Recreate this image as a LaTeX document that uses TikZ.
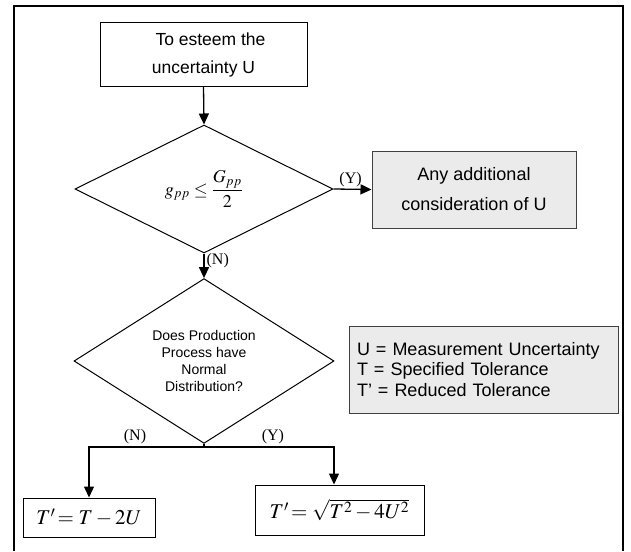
\documentclass[tikz,border=0pt]{standalone}
\usepackage{amsmath}
\usepackage{mathptmx}
\usepackage[no-math]{fontspec}
\setmainfont{Liberation Sans}
\newfontfamily\labelfont{Liberation Serif}
\usetikzlibrary{shapes.geometric,arrows.meta}
\begin{document}
\begin{tikzpicture}[x=1pt,y=-1pt,
  arr/.style={-{Triangle[length=11pt,width=10pt]}, line width=1.3pt},
  box/.style={draw, line width=1pt, inner sep=0pt, align=center},
  greybox/.style={box, draw=black!75, fill=black!8},
  test/.style={draw, diamond, line width=1pt, inner sep=0pt, align=center},
  yn/.style={font=\labelfont\fontsize{16}{18}\selectfont, inner sep=2pt}]
  \useasboundingbox (0,0) rectangle (631,551);
  \draw[line width=2.5pt] (14,551) -- (14,6) -- (623,6) -- (623,551);
  \node[box, minimum width=207pt, minimum height=63pt, font=\fontsize{17.5}{28}\selectfont] (start) at (203.5,54.5) {\hspace*{14pt}To esteem the\\uncertainty U};
  \node[test, minimum width=258pt, minimum height=128pt] (cond1) at (204,189) {\fontsize{18}{20}\selectfont$g_{pp}\le\dfrac{G_{pp}}{2}$};
  \node[greybox, minimum width=204pt, minimum height=77pt, font=\fontsize{18}{30}\selectfont] (extra) at (474,189.5) {Any additional\\consideration of U};
  \node[test, minimum width=260pt, minimum height=136pt, font=\fontsize{14}{17}\selectfont] (cond2) at (204,361) {Does Production\\Process have\\Normal\\Distribution?};
  \node[greybox, minimum width=269pt, minimum height=87pt, text width=253pt, align=left, font=\fontsize{18}{20.5}\selectfont] (legend) at (483.5,369.5) {U = Measurement Uncertainty\\T = Specified Tolerance\\T' = Reduced Tolerance};
  \node[box, minimum width=132pt, minimum height=39pt, font=\fontsize{21}{24}\selectfont] (resN) at (89,517.5) {$T'\!= T - 2U$};
  \node[box, minimum width=169pt, minimum height=50pt, font=\fontsize{21}{24}\selectfont] (resY) at (339.5,510) {$T'\!= \sqrt{T^2 - 4U^2}$};
  \coordinate (split) at (204,447);
  \coordinate (splitY) at (334,447);
  \draw[arr] (start.south) -- (cond1.north);
  \draw[arr] (cond1.east) -- node[yn, above, pos=0.45] {(Y)} (extra.west);
  \draw[arr] (cond1.south) -- node[yn, right, pos=0.3] {(N)} (cond2.north);
  \draw[line width=1.3pt] (cond2.south) -- (split);
  \draw[arr] (split) -- node[yn, above, pos=0.6] {(N)} (split -| resN.north) -- (resN.north);
  \draw[arr] (split) -- node[yn, above, pos=0.53] {(Y)} (splitY) -- (splitY |- resY.north);
\end{tikzpicture}
\end{document}
